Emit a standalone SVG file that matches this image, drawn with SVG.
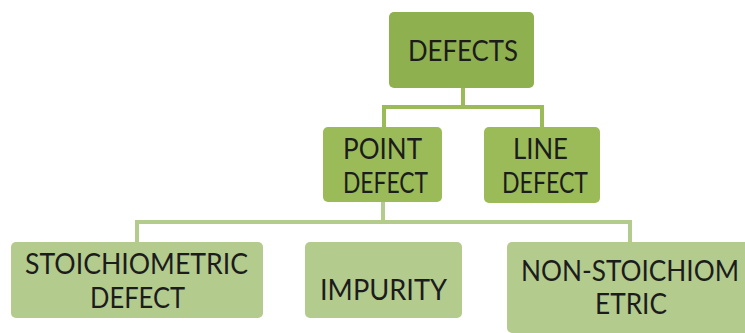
<svg xmlns="http://www.w3.org/2000/svg" width="745" height="333" viewBox="0 0 745 333">
<style>
.top{fill:#8fb04e}
.mid{fill:#9bbb59}
.low{fill:#b3cb8d}
.c1{stroke:#9bbb59;stroke-width:4;fill:none}
.c2{stroke:#b3cb8d;stroke-width:4;fill:none}
text{font-family:"Lato","Liberation Sans",sans-serif;font-size:28px;fill:#1c1c1c}
</style>
<rect width="745" height="333" fill="#ffffff"/>
<g id="connectors">
<path class="c1" d="M463,88 V107 M382,107 H544 M384,105 V128 M542,105 V128"/>
<path class="c2" d="M383,200 V222 M135,222 H632 M137,220 V242 M630,220 V242"/>
</g>
<g id="defects">
<rect class="top" x="389" y="12" width="145" height="76" rx="5"/>
<text x="408" y="61" textLength="110" lengthAdjust="spacingAndGlyphs">DEFECTS</text>
</g>
<g id="point-defect">
<rect class="mid" x="323" y="127" width="119" height="75" rx="5"/>
<text x="343" y="159" textLength="79" lengthAdjust="spacingAndGlyphs">POINT</text>
<text x="343" y="193" textLength="85" lengthAdjust="spacingAndGlyphs">DEFECT</text>
</g>
<g id="line-defect">
<rect class="mid" x="484" y="127" width="116" height="76" rx="5"/>
<text x="513" y="159" textLength="55" lengthAdjust="spacingAndGlyphs">LINE</text>
<text x="502" y="193" textLength="86" lengthAdjust="spacingAndGlyphs">DEFECT</text>
</g>
<g id="stoichiometric">
<rect class="low" x="11" y="242" width="252" height="76" rx="5"/>
<text x="25" y="274" textLength="223" lengthAdjust="spacingAndGlyphs">STOICHIOMETRIC</text>
<text x="90" y="308" textLength="95" lengthAdjust="spacingAndGlyphs">DEFECT</text>
</g>
<g id="impurity">
<rect class="low" x="305" y="242" width="157" height="76" rx="5"/>
<text x="320" y="300" textLength="127" lengthAdjust="spacingAndGlyphs">IMPURITY</text>
</g>
<g id="non-stoichiometric">
<rect class="low" x="507" y="242" width="245" height="91" rx="5"/>
<text x="521" y="281" textLength="218" lengthAdjust="spacingAndGlyphs">NON-STOICHIOM</text>
<text x="595" y="314" textLength="72" lengthAdjust="spacingAndGlyphs">ETRIC</text>
</g>
</svg>
